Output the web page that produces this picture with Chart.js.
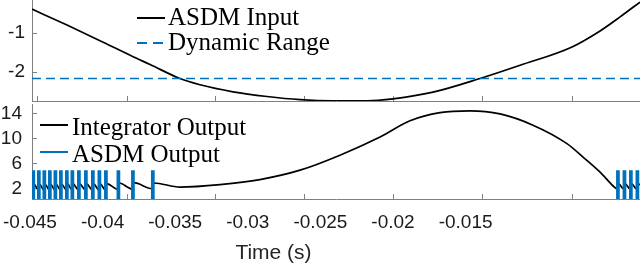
<!DOCTYPE html>
<html>
<head>
<meta charset="utf-8">
<script src="https://cdn.jsdelivr.net/npm/chart.js@4.4.1/dist/chart.umd.min.js"></script>
<style>
  html, body { margin:0; padding:0; background:#fff; }
  body { width:640px; height:266px; position:relative; overflow:hidden; }
  canvas { position:absolute; left:0; }
  #top { top:0; }
  #bot { top:103px; }
  .legtxt { position:absolute; font-family:"Liberation Serif","Times New Roman",serif; font-size:25px; line-height:25px; color:#000; white-space:nowrap; }
  .legsym { position:absolute; overflow:visible; }
  #xtitle { position:absolute; font-family:"Liberation Sans",Arial,sans-serif; font-size:21px; line-height:21px; color:#262626; white-space:nowrap; transform:translateX(-50%); }
</style>
</head>
<body>
<canvas id="top" width="640" height="102"></canvas>
<canvas id="bot" width="640" height="163"></canvas>
<div id="xtitle" style="left:273.5px; top:241px"></div>
<script>
// ---------------- data (seconds / signal units) ----------------
const xMin = -0.04486;
const xMax = -0.00299;

// ASDM input (top panel)
const inputT = [-0.04486, -0.04245, -0.04018, -0.03790, -0.03673, -0.03467, -0.03329, -0.03102, -0.02868,
                -0.02640, -0.02413, -0.02179, -0.02000, -0.01724, -0.01401, -0.01125, -0.00767, -0.00574,
                -0.00436, -0.00299];
const inputV = [-0.40, -0.81, -1.21, -1.62, -1.82, -2.18, -2.34, -2.52, -2.64,
                -2.72, -2.75, -2.75, -2.70, -2.53, -2.18, -1.84, -1.37, -0.96,
                -0.60, -0.22];
const dynamicRange = -2.18;

// ASDM output pulses (rise / fall times), levels
const pulseRise = [-0.04483, -0.04445, -0.04407, -0.04369, -0.04331, -0.04293, -0.04252, -0.04214,
                   -0.04169, -0.04121, -0.04073, -0.04028, -0.03983, -0.03897, -0.03797, -0.03660,
                   -0.00457, -0.00412, -0.00368, -0.00323];
const pulseFall = [-0.04471, -0.04433, -0.04395, -0.04357, -0.04319, -0.04281, -0.04240, -0.04202,
                   -0.04157, -0.04109, -0.04061, -0.04016, -0.03971, -0.03885, -0.03785, -0.03648,
                   -0.00445, -0.00400, -0.00356, -0.00311];
const pulseHigh = 4.75;
const pulseLow = 0;

// Integrator output (bottom panel)
const integT = [-0.04486,
  -0.04483, -0.04471, -0.04445, -0.04433, -0.04407, -0.04395, -0.04369, -0.04357,
  -0.04331, -0.04319, -0.04293, -0.04281, -0.04252, -0.04240, -0.04214, -0.04202,
  -0.04169, -0.04157, -0.04121, -0.04109, -0.04073, -0.04061, -0.04028, -0.04016,
  -0.03983, -0.03971, -0.03897, -0.03885, -0.03797, -0.03785, -0.03660, -0.03648,
  -0.03467, -0.03191, -0.02916, -0.02640, -0.02365, -0.02089, -0.01883, -0.01676,
  -0.01470, -0.01263, -0.01036, -0.00802, -0.00691, -0.00574, -0.00471,
  -0.00457, -0.00445, -0.00412, -0.00400, -0.00368, -0.00356, -0.00323, -0.00311, -0.00299];
const integV = [1.85,
  1.80, 2.65, 1.80, 2.65, 1.80, 2.65, 1.80, 2.65,
  1.80, 2.65, 1.80, 2.65, 1.80, 2.70, 1.80, 2.70,
  1.80, 2.70, 1.80, 2.70, 1.80, 2.70, 1.80, 2.70,
  1.80, 2.75, 1.85, 2.85, 1.90, 2.90, 1.95, 2.85,
  2.20, 2.60, 3.40, 4.90, 7.30, 10.20, 12.80, 14.10,
  14.40, 13.90, 12.10, 9.15, 7.00, 4.60, 2.10,
  1.90, 2.70, 1.90, 2.70, 1.90, 2.70, 1.90, 2.70, 2.55];

// axes
const topYTicks = [-2, -1];
const botYTicks = [2, 6, 10, 14];
const xTickValues = [-0.045, -0.04, -0.035, -0.03, -0.025, -0.02, -0.015];
const xTickLabels = ['-0.045', '-0.04', '-0.035', '-0.03', '-0.025', '-0.02', '-0.015'];
const xTickMarks = [-0.044516, -0.038317, -0.032257, -0.026127, -0.019998, -0.013868, -0.007670];
const xTitle = 'Time (s)';
const topLegendLabels = ['ASDM Input', 'Dynamic Range'];
const botLegendLabels = ['Integrator Output', 'ASDM Output'];

// ---------------- styling / rendering ----------------
const BLUE = '#0072BD';
const AXIS = '#808080';
Chart.defaults.font.family = "'Liberation Sans', Arial, sans-serif";
Chart.defaults.font.size = 19;
Chart.defaults.color = '#262626';

document.getElementById('xtitle').textContent = xTitle;

const inwardTicks = {
  id: 'inwardTicks',
  beforeDatasetsDraw(chart, args, opts) {
    const {ctx, chartArea: a, scales} = chart;
    ctx.save();
    ctx.strokeStyle = opts.color || AXIS;
    ctx.lineWidth = 1;
    ctx.beginPath();
    (opts.x || []).forEach(v => {
      const px = Math.round(scales.x.getPixelForValue(v)) + 0.5;
      ctx.moveTo(px, a.bottom);
      ctx.lineTo(px, a.bottom - opts.len);
    });
    (opts.y || []).forEach(v => {
      const py = Math.round(scales.y.getPixelForValue(v)) + 0.5;
      ctx.moveTo(a.left, py);
      ctx.lineTo(a.left + opts.len, py);
    });
    ctx.stroke();
    ctx.restore();
  }
};

function zeroPad(s) { s.paddingLeft = 0; s.paddingRight = 0; s.paddingTop = 0; s.paddingBottom = 0; }
const pts = (T, V) => T.map((t, i) => ({x: t, y: V[i]}));

// top chart
new Chart(document.getElementById('top'), {
  type: 'line',
  data: { datasets: [
    { label: topLegendLabels[0], data: pts(inputT, inputV), borderColor: '#000', borderWidth: 1.7,
      pointRadius: 0, cubicInterpolationMode: 'monotone', order: 2 },
    { label: topLegendLabels[1], data: [{x: xMin, y: dynamicRange}, {x: xMax, y: dynamicRange}],
      borderColor: BLUE, borderWidth: 1.6, borderDash: [9, 5], pointRadius: 0, order: 1 }
  ]},
  options: {
    responsive: false, animation: false, devicePixelRatio: 1, events: [],
    layout: { padding: 0 },
    plugins: { legend: { display: false }, tooltip: { enabled: false },
      inwardTicks: { x: xTickMarks, y: topYTicks, len: 5, color: AXIS } },
    scales: {
      x: { type: 'linear', min: xMin, max: xMax,
        grid: { display: false, drawTicks: false }, border: { display: true, color: AXIS, width: 1 },
        ticks: { display: false },
        afterFit(s) { s.height = 1; zeroPad(s); } },
      y: { type: 'linear', min: -2.756, max: -0.1667,
        grid: { display: false, drawTicks: false }, border: { display: true, color: AXIS, width: 1 },
        ticks: { padding: 7, color: '#1a1a1a', callback: v => String(v) },
        afterBuildTicks(s) { s.ticks = topYTicks.map(v => ({value: v})); },
        afterFit(s) { s.width = 32; zeroPad(s); } }
    }
  },
  plugins: [inwardTicks]
});

// ASDM output step data built from pulse edges
const asdmData = [{x: xMin, y: pulseLow}];
pulseRise.forEach((r, i) => { asdmData.push({x: r, y: pulseHigh}); asdmData.push({x: pulseFall[i], y: pulseLow}); });
asdmData.push({x: xMax, y: pulseLow});

// bottom chart
new Chart(document.getElementById('bot'), {
  type: 'line',
  data: { datasets: [
    { label: botLegendLabels[0], data: pts(integT, integV), borderColor: '#000', borderWidth: 1.7,
      pointRadius: 0, cubicInterpolationMode: 'monotone', order: 2 },
    { label: botLegendLabels[1], data: asdmData, borderColor: BLUE, borderWidth: 2,
      pointRadius: 0, stepped: true, order: 1 }
  ]},
  options: {
    responsive: false, animation: false, devicePixelRatio: 1, events: [],
    layout: { padding: { top: 1, left: 0, right: 0, bottom: 0 } },
    plugins: { legend: { display: false }, tooltip: { enabled: false },
      inwardTicks: { x: xTickMarks, y: botYTicks, len: 5, color: AXIS } },
    scales: {
      x: { type: 'linear', min: xMin, max: xMax,
        grid: { display: false, drawTicks: false }, border: { display: true, color: AXIS, width: 1 },
        ticks: { padding: 12, color: '#1a1a1a', autoSkip: false, maxRotation: 0,
                 callback: (v, i) => xTickLabels[i] },
        afterBuildTicks(s) { s.ticks = xTickValues.map(v => ({value: v})); },
        afterFit(s) { s.height = 67; zeroPad(s); } },
      y: { type: 'linear', min: 0.29, max: 15.49,
        grid: { display: false, drawTicks: false }, border: { display: true, color: AXIS, width: 1 },
        ticks: { padding: 10, color: '#1a1a1a', callback: v => String(v) },
        afterBuildTicks(s) { s.ticks = botYTicks.map(v => ({value: v})); },
        afterFit(s) { s.width = 32; zeroPad(s); } }
    }
  },
  plugins: [inwardTicks]
});

// HTML legends (real text)
const legendItems = [
  { label: topLegendLabels[0], color: '#000', w: 2, dash: null, sx: 137, sy: 18, tx: 168, ty: 4 },
  { label: topLegendLabels[1], color: BLUE, w: 2, dash: [10, 6], sx: 137, sy: 43, tx: 168, ty: 29 },
  { label: botLegendLabels[0], color: '#000', w: 2, dash: null, sx: 40, sy: 125, tx: 72, ty: 114 },
  { label: botLegendLabels[1], color: BLUE, w: 2, dash: null, sx: 40, sy: 152, tx: 72, ty: 141 }
];
const ns = 'http://www.w3.org/2000/svg';
legendItems.forEach(it => {
  const svg = document.createElementNS(ns, 'svg');
  svg.setAttribute('width', 30); svg.setAttribute('height', 6);
  svg.setAttribute('class', 'legsym');
  svg.style.left = it.sx + 'px'; svg.style.top = (it.sy - 3) + 'px';
  const ln = document.createElementNS(ns, 'line');
  ln.setAttribute('x1', 0); ln.setAttribute('y1', 3); ln.setAttribute('x2', 28); ln.setAttribute('y2', 3);
  ln.setAttribute('stroke', it.color); ln.setAttribute('stroke-width', it.w);
  if (it.dash) ln.setAttribute('stroke-dasharray', it.dash.join(' '));
  svg.appendChild(ln);
  document.body.appendChild(svg);
  const d = document.createElement('div');
  d.className = 'legtxt';
  d.textContent = it.label;
  d.style.left = it.tx + 'px'; d.style.top = it.ty + 'px';
  document.body.appendChild(d);
});
</script>
</body>
</html>
